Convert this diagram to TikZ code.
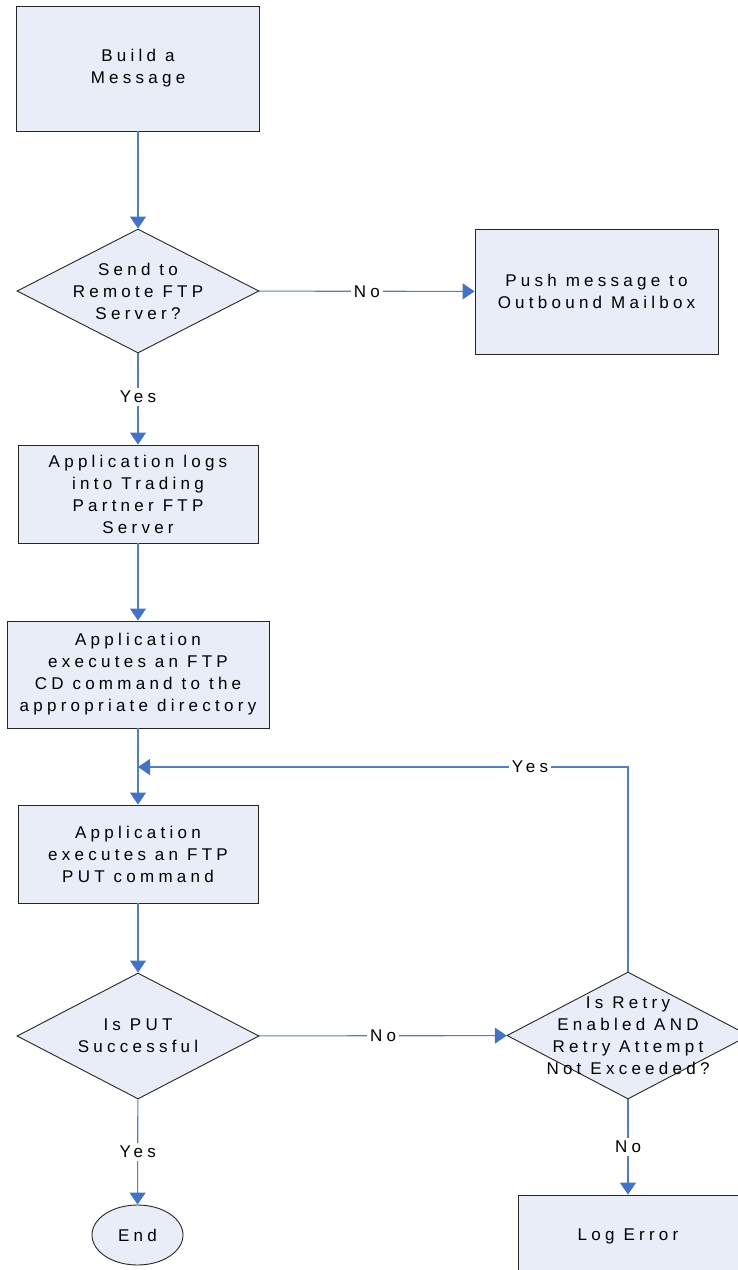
\documentclass[tikz,border=0pt]{standalone}
\usepackage{fontspec}
\setmainfont{Liberation Sans}[LetterSpace=25]
\usetikzlibrary{shapes.geometric,arrows.meta}
\definecolor{boxfill}{RGB}{232,237,247}
\definecolor{linkblue}{RGB}{79,129,189}
\definecolor{headblue}{RGB}{68,114,196}
\tikzset{
  every node/.style={font={\fontsize{17}{22}\selectfont}, text=black},
  procbox/.style={draw=black!85, fill=boxfill, line width=0.9pt, inner sep=0pt, align=center},
  dia/.style={draw=black!85, fill=boxfill, line width=0.9pt, diamond, inner sep=0pt},
  term/.style={draw=black!85, fill=boxfill, line width=0.9pt, ellipse, inner sep=0pt, minimum width=91pt, minimum height=60pt},
  txt/.style={align=center, inner sep=0pt},
  lbl/.style={fill=white, inner sep=3pt},
  link/.style={draw=linkblue, line width=1.1pt, -{Triangle[length=12pt,width=16pt,color=headblue]}},
}
\begin{document}
\begin{tikzpicture}[x=1pt,y=-1pt]
\useasboundingbox (0,0) rectangle (737,1270);
% nodes
\node[procbox, minimum width=243pt, minimum height=125pt] (b1) at (138,68.5) {Build a\\Message};
\node[dia, minimum width=242pt, minimum height=124pt] (d1) at (138,291) {};
\node[txt] (t1) at (d1) {Send to\\Remote FTP\\Server?};
\node[procbox, minimum width=243pt, minimum height=125pt] (b2) at (596.5,291.5) {Push message to\\Outbound Mailbox};
\node[procbox, minimum width=240pt, minimum height=98pt] (b3) at (138,494) {Application logs\\into Trading\\Partner FTP\\Server};
\node[procbox, minimum width=262pt, minimum height=107pt] (b4) at (138,674.5) {Application\\executes an FTP\\CD command to the\\appropriate directory};
\node[procbox, minimum width=240pt, minimum height=98pt] (b5) at (138,854) {Application\\executes an FTP\\PUT command};
\node[dia, minimum width=242pt, minimum height=126pt] (d2) at (138,1036) {};
\node[txt] (t2) at (d2) {Is PUT\\Successful};
\node[dia, minimum width=242pt, minimum height=127pt] (d3) at (628,1035.5) {};
\node[txt] (t3) at (d3) {Is Retry\\Enabled AND\\Retry Attempt\\Not Exceeded?};
\node[term] (e) at (137.5,1235) {End};
\node[procbox, minimum width=220pt, minimum height=80pt] (b6) at (628,1235) {};
\node[txt] (t6) at (628,1236) {Log Error};
\coordinate (j) at (138,767);
% connectors
\draw[link] (b1) -- (d1);
\draw[link] (d1) -- node[lbl]{No} (b2);
\draw[link] (d1) -- node[lbl, pos=0.48]{Yes} (b3);
\draw[link] (b3) -- (b4);
\draw[link] (b4) -- (b5);
\draw[link] (d3.north) |- node[lbl, pos=0.6]{Yes} (j);
\draw[link] (b5) -- (d2);
\draw[link] (d2) -- node[lbl]{No} (d3);
\draw[link] (d2) -- node[lbl, pos=0.5]{Yes} (e);
\draw[link] (d3) -- node[lbl, pos=0.5]{No} (b6);
\end{tikzpicture}
\end{document}
